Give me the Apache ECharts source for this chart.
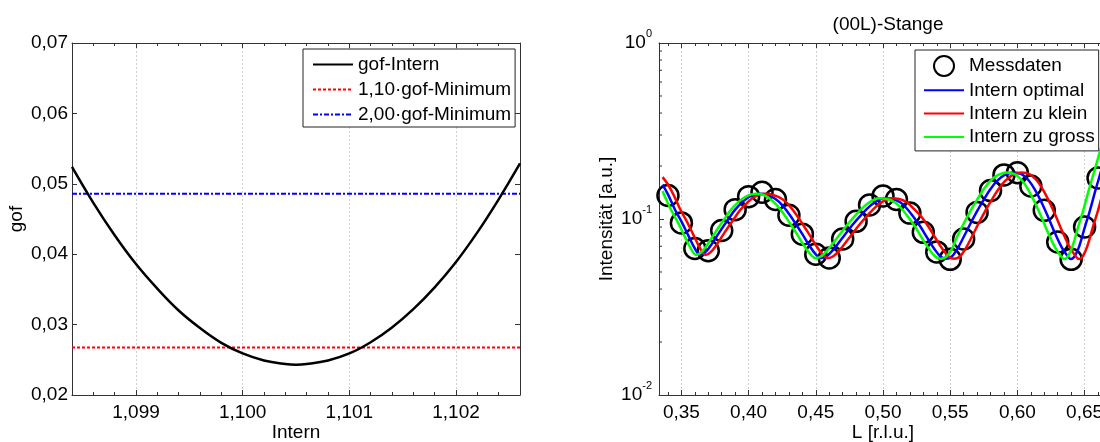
<!DOCTYPE html>
<html><head><meta charset="utf-8">
<script src="https://cdn.jsdelivr.net/npm/echarts@6/dist/echarts.min.js"></script>
<style>html,body{margin:0;padding:0;background:#fff}#c{width:1100px;height:442px}</style>
</head><body><div id="c"></div>
<script>
const FONT = "'Liberation Sans', Arial, Helvetica, sans-serif";

// ---- left plot: gof vs Intern ----
const gofX = [1.0984,1.0986,1.0988,1.0990,1.0992,1.0994,1.0996,1.0998,1.1000,1.1002,1.1004,1.1005,1.1006,1.1008,1.1010,1.1012,1.1014,1.1016,1.1018,1.1020,1.1022,1.1024,1.1026];
const gofY = [0.0524,0.0473,0.0427,0.0386,0.0351,0.0320,0.0295,0.0274,0.0259,0.0249,0.0244,0.0243,0.0244,0.0249,0.0259,0.0275,0.0296,0.0322,0.0353,0.0389,0.0431,0.0478,0.0529];
const gofMinimum = 0.0243;
const factorA = 1.10, factorB = 2.00;

// ---- right plot: (00L)-Stange ----
const measL = [0.34,0.35,0.36,0.37,0.38,0.39,0.40,0.41,0.42,0.43,0.44,0.45,0.46,0.47,0.48,0.49,0.50,0.51,0.52,0.53,0.54,0.55,0.56,0.57,0.58,0.59,0.60,0.61,0.62,0.63,0.64,0.65,0.66];
const measI = [0.136,0.095,0.068,0.066,0.086,0.113,0.134,0.142,0.129,0.105,0.082,0.063,0.060,0.077,0.097,0.120,0.135,0.129,0.108,0.084,0.065,0.059,0.077,0.109,0.145,0.178,0.183,0.154,0.112,0.074,0.059,0.090,0.171];

const internOptimal = [[0.336,0.157],[0.340,0.138],[0.345,0.114],[0.350,0.097],[0.355,0.081],[0.360,0.068],[0.364,0.0625],[0.368,0.065],[0.372,0.071],[0.376,0.079],[0.380,0.088],[0.385,0.100],[0.390,0.113],[0.395,0.124],[0.400,0.133],[0.405,0.138],[0.409,0.139],[0.414,0.137],[0.420,0.130],[0.425,0.120],[0.430,0.107],[0.435,0.094],[0.440,0.082],[0.445,0.071],[0.450,0.063],[0.454,0.0600],[0.458,0.0615],[0.463,0.067],[0.468,0.075],[0.473,0.084],[0.478,0.094],[0.484,0.106],[0.490,0.118],[0.495,0.126],[0.501,0.131],[0.507,0.130],[0.513,0.124],[0.518,0.114],[0.523,0.102],[0.528,0.090],[0.533,0.078],[0.538,0.068],[0.543,0.061],[0.547,0.0594],[0.551,0.061],[0.555,0.067],[0.560,0.079],[0.565,0.094],[0.570,0.111],[0.575,0.129],[0.580,0.148],[0.585,0.165],[0.590,0.177],[0.597,0.184],[0.603,0.180],[0.608,0.167],[0.613,0.147],[0.618,0.124],[0.623,0.102],[0.628,0.083],[0.633,0.069],[0.637,0.062],[0.640,0.0592],[0.643,0.062],[0.646,0.070],[0.650,0.089],[0.654,0.112],[0.658,0.145],[0.6625,0.190],[0.667,0.250]];

const internZuKlein = [[0.336,0.173],[0.340,0.157],[0.344,0.138],[0.349,0.114],[0.354,0.097],[0.359,0.081],[0.364,0.068],[0.368,0.0625],[0.372,0.065],[0.376,0.071],[0.380,0.079],[0.384,0.088],[0.389,0.100],[0.394,0.113],[0.399,0.124],[0.404,0.133],[0.409,0.138],[0.413,0.139],[0.418,0.137],[0.425,0.130],[0.430,0.120],[0.435,0.107],[0.440,0.094],[0.445,0.082],[0.450,0.071],[0.455,0.063],[0.459,0.0600],[0.463,0.0615],[0.468,0.067],[0.473,0.075],[0.478,0.084],[0.483,0.094],[0.489,0.106],[0.495,0.118],[0.500,0.126],[0.506,0.131],[0.512,0.130],[0.518,0.124],[0.523,0.114],[0.529,0.102],[0.534,0.090],[0.539,0.078],[0.544,0.068],[0.549,0.061],[0.553,0.0594],[0.557,0.061],[0.561,0.067],[0.566,0.079],[0.571,0.094],[0.576,0.111],[0.581,0.129],[0.586,0.148],[0.591,0.165],[0.596,0.177],[0.603,0.184],[0.609,0.180],[0.614,0.167],[0.619,0.147],[0.624,0.124],[0.629,0.102],[0.634,0.083],[0.639,0.069],[0.643,0.062],[0.646,0.0592],[0.649,0.062],[0.652,0.070],[0.656,0.089],[0.660,0.112],[0.664,0.145],[0.6685,0.190]];

const internZuGross = [[0.336,0.144],[0.337,0.138],[0.342,0.114],[0.347,0.097],[0.352,0.081],[0.357,0.068],[0.361,0.0625],[0.365,0.065],[0.369,0.071],[0.373,0.079],[0.377,0.088],[0.382,0.100],[0.387,0.113],[0.392,0.124],[0.397,0.133],[0.402,0.138],[0.406,0.139],[0.411,0.137],[0.416,0.130],[0.421,0.120],[0.426,0.107],[0.431,0.094],[0.436,0.082],[0.441,0.071],[0.446,0.063],[0.450,0.0600],[0.454,0.0615],[0.459,0.067],[0.464,0.075],[0.469,0.084],[0.474,0.094],[0.480,0.106],[0.486,0.118],[0.491,0.126],[0.497,0.131],[0.503,0.130],[0.509,0.124],[0.514,0.114],[0.519,0.102],[0.524,0.090],[0.529,0.078],[0.534,0.068],[0.539,0.061],[0.543,0.0594],[0.547,0.061],[0.551,0.067],[0.555,0.079],[0.560,0.094],[0.565,0.111],[0.570,0.129],[0.575,0.148],[0.580,0.165],[0.585,0.177],[0.592,0.184],[0.598,0.180],[0.603,0.167],[0.608,0.147],[0.613,0.124],[0.618,0.102],[0.623,0.083],[0.628,0.069],[0.632,0.062],[0.635,0.0592],[0.638,0.062],[0.641,0.070],[0.645,0.089],[0.649,0.112],[0.653,0.145],[0.6575,0.190],[0.662,0.250],[0.667,0.330]];

const logMinorTicks = [0.02,0.03,0.04,0.05,0.06,0.07,0.08,0.09,0.2,0.3,0.4,0.5,0.6,0.7,0.8,0.9];

const chart = echarts.init(document.getElementById('c'), null, {renderer: 'canvas'});
const axisColor = '#333';
const gridLine = {show: true, lineStyle: {color: '#d0d0d0', type: [2, 2], width: 1}};
const tickStyle = {lineStyle: {color: axisColor, width: 1}};
const labelFont = {fontSize: 19, color: '#000', fontFamily: FONT};
const comma = (d) => (v) => v.toFixed(d).replace('.', ',');
const noSymbol = {color: 'rgba(0,0,0,0)', borderColor: 'rgba(0,0,0,0)', borderWidth: 0, opacity: 0};

const xLeftMin = 1.0984, xLeftMax = 1.1026;
const xRightMin = 1 / 3, xRightMax = 2 / 3;

function frameX(grid, min, max, pos) {
  return {
    gridIndex: grid, type: 'value', min: min, max: max, position: pos,
    axisLine: {show: true, onZero: false, lineStyle: {color: axisColor, width: 1}},
    axisTick: Object.assign({show: true, inside: true, length: 5}, tickStyle),
    minorTick: Object.assign({show: true, splitNumber: 5, length: 3}, tickStyle),
    axisLabel: {show: false}, splitLine: {show: false}
  };
}

const option = {
  animation: false,
  backgroundColor: '#fff',
  textStyle: {fontFamily: FONT},
  title: {
    text: '(00L)-Stange', left: 883, top: 10, textAlign: 'center',
    textStyle: {fontSize: 19, fontWeight: 'normal', color: '#000', fontFamily: FONT}
  },
  grid: [
    {left: 72, top: 43, width: 448, height: 352, outerBoundsMode: 'none', containLabel: false},
    {left: 659, top: 43, width: 448, height: 352, outerBoundsMode: 'none', containLabel: false}
  ],
  legend: [
    {
      data: [
        {name: 'gof-Intern', itemStyle: noSymbol},
        {name: '1,10\u00b7gof-Minimum', itemStyle: noSymbol},
        {name: '2,00\u00b7gof-Minimum', itemStyle: noSymbol}
      ],
      orient: 'vertical', left: 303, top: 49, align: 'left',
      itemWidth: 40, itemHeight: 14, itemGap: 6, padding: [6, 4, 3, 9],
      borderColor: '#222', borderWidth: 1, backgroundColor: '#fff', borderRadius: 0,
      textStyle: {fontSize: 19, color: '#000', fontFamily: FONT},
      selectedMode: false
    },
    {
      data: [
        {name: 'Messdaten'},
        {name: 'Intern optimal', itemStyle: noSymbol},
        {name: 'Intern zu klein', itemStyle: noSymbol},
        {name: 'Intern zu gross', itemStyle: noSymbol}
      ],
      orient: 'vertical', left: 915, top: 50, align: 'left',
      itemWidth: 40, itemHeight: 20, itemGap: 3.3, padding: [5, 4, 4, 8],
      borderColor: '#222', borderWidth: 1, backgroundColor: '#fff', borderRadius: 0,
      textStyle: {fontSize: 19, color: '#000', fontFamily: FONT, lineHeight: 20},
      selectedMode: false
    }
  ],
  xAxis: [
    {
      gridIndex: 0, type: 'value', min: xLeftMin, max: xLeftMax, position: 'bottom',
      axisLine: {show: true, onZero: false, lineStyle: {color: axisColor, width: 1}},
      axisTick: Object.assign({show: true, inside: true, length: 5}, tickStyle),
      minorTick: Object.assign({show: true, splitNumber: 5, length: 3}, tickStyle),
      axisLabel: Object.assign({margin: 8, formatter: comma(3), showMinLabel: false, showMaxLabel: false}, labelFont),
      splitLine: gridLine,
      name: 'Intern', nameLocation: 'middle', nameGap: 28, nameMoveOverlap: false,
      nameTextStyle: {fontSize: 19, color: '#000', fontFamily: FONT}
    },
    frameX(0, xLeftMin, xLeftMax, 'top'),
    {
      gridIndex: 1, type: 'value', min: xRightMin, max: xRightMax, position: 'bottom',
      axisLine: {show: true, onZero: false, lineStyle: {color: axisColor, width: 1}},
      axisTick: Object.assign({show: true, inside: true, length: 5}, tickStyle),
      minorTick: Object.assign({show: true, splitNumber: 5, length: 3}, tickStyle),
      axisLabel: Object.assign({margin: 8, formatter: comma(2), showMinLabel: false, showMaxLabel: false}, labelFont),
      splitLine: gridLine,
      name: 'L [r.l.u.]', nameLocation: 'middle', nameGap: 28, nameMoveOverlap: false,
      nameTextStyle: {fontSize: 19, color: '#000', fontFamily: FONT}
    },
    frameX(1, xRightMin, xRightMax, 'top')
  ],
  yAxis: [
    {
      gridIndex: 0, type: 'value', min: 0.02, max: 0.07, interval: 0.01, position: 'left',
      axisLine: {show: true, onZero: false, lineStyle: {color: axisColor, width: 1}},
      axisTick: Object.assign({show: true, inside: true, length: 5}, tickStyle),
      axisLabel: Object.assign({margin: 4, formatter: comma(2)}, labelFont),
      splitLine: {show: false},
      name: 'gof', nameLocation: 'middle', nameGap: 46,
      nameTextStyle: {fontSize: 19, color: '#000', fontFamily: FONT}
    },
    {
      gridIndex: 0, type: 'value', min: 0.02, max: 0.07, interval: 0.01, position: 'right',
      axisLine: {show: true, onZero: false, lineStyle: {color: axisColor, width: 1}},
      axisTick: Object.assign({show: true, inside: true, length: 5}, tickStyle),
      axisLabel: {show: false}, splitLine: {show: false}
    },
    {
      gridIndex: 1, type: 'log', logBase: 10, min: 0.01, max: 1, position: 'left',
      axisLine: {show: true, onZero: false, lineStyle: {color: axisColor, width: 1}},
      axisTick: Object.assign({show: true, inside: true, length: 5}, tickStyle),
      axisLabel: {
        margin: 7,
        formatter: (v) => '{a|10}{b|' + Math.round(Math.log10(v)) + '}',
        rich: {
          a: {fontSize: 19, color: '#000', fontFamily: FONT, lineHeight: 29},
          b: {fontSize: 11, color: '#000', fontFamily: FONT, lineHeight: 11, verticalAlign: 'top'}
        }
      },
      splitLine: {show: false},
      name: 'Intensit\u00e4t [a.u.]', nameLocation: 'middle', nameGap: 43,
      nameTextStyle: {fontSize: 19, color: '#000', fontFamily: FONT}
    }
  ],
  series: [
    {
      name: 'gof-Intern', type: 'line', xAxisIndex: 0, yAxisIndex: 0,
      data: gofX.map((x, i) => [x, gofY[i]]), smooth: 0.4, symbol: 'none',
      lineStyle: {color: '#000', width: 2.5}, itemStyle: {color: '#000'}, z: 3
    },
    {
      name: '1,10\u00b7gof-Minimum', type: 'line', xAxisIndex: 0, yAxisIndex: 0,
      data: [[xLeftMin, factorA * gofMinimum], [xLeftMax, factorA * gofMinimum]], symbol: 'none',
      lineStyle: {color: '#ff0000', width: 2, type: [3, 2]}, itemStyle: {color: '#ff0000'}, z: 2
    },
    {
      name: '2,00\u00b7gof-Minimum', type: 'line', xAxisIndex: 0, yAxisIndex: 0,
      data: [[xLeftMin, factorB * gofMinimum], [xLeftMax, factorB * gofMinimum]], symbol: 'none',
      lineStyle: {color: '#0000ff', width: 2, type: [5, 2, 2, 2]}, itemStyle: {color: '#0000ff'}, z: 2
    },
    {
      name: 'Messdaten', type: 'scatter', xAxisIndex: 2, yAxisIndex: 2,
      data: measL.map((x, i) => [x, measI[i]]), symbol: 'circle', symbolSize: 21,
      itemStyle: {color: 'rgba(255,255,255,0)', borderColor: '#000', borderWidth: 2.5, opacity: 1}, z: 2
    },
    {
      name: 'Intern optimal', type: 'line', xAxisIndex: 2, yAxisIndex: 2,
      data: internOptimal, smooth: 0.4, symbol: 'none',
      lineStyle: {color: '#0000ff', width: 2.5}, itemStyle: {color: '#0000ff'}, z: 3
    },
    {
      name: 'Intern zu klein', type: 'line', xAxisIndex: 2, yAxisIndex: 2,
      data: internZuKlein, smooth: 0.4, symbol: 'none',
      lineStyle: {color: '#ff0000', width: 2.5}, itemStyle: {color: '#ff0000'}, z: 3
    },
    {
      name: 'Intern zu gross', type: 'line', xAxisIndex: 2, yAxisIndex: 2,
      data: internZuGross, smooth: 0.4, symbol: 'none',
      lineStyle: {color: '#00ff00', width: 2.5}, itemStyle: {color: '#00ff00'}, z: 3
    },
    {
      name: 'logMinor', type: 'custom', xAxisIndex: 2, yAxisIndex: 2, silent: true, z: 4,
      data: logMinorTicks.map((v) => [xRightMin, v]),
      renderItem: (params, api) => {
        const p = api.coord([api.value(0), api.value(1)]);
        return {type: 'line', shape: {x1: p[0], y1: p[1], x2: p[0] + 3, y2: p[1]},
                style: {stroke: axisColor, lineWidth: 1}};
      }
    }
  ]
};
chart.setOption(option);
</script></body></html>
